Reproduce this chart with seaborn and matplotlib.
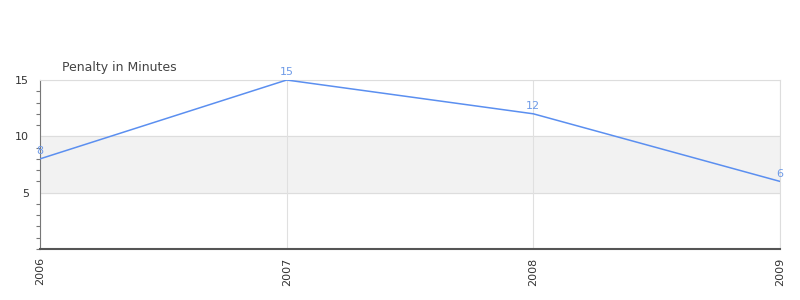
import matplotlib
matplotlib.use("Agg")
import matplotlib.pyplot as plt
import seaborn as sns
import pandas as pd
from matplotlib.ticker import MultipleLocator

years = ["2006", "2007", "2008", "2009"]
penalty = [8, 15, 12, 6]
title = "Penalty in Minutes"

sns.set_style("white")
plt.rcParams['font.family'] = ['DejaVu Sans']

df = pd.DataFrame({"x": range(len(years)), "y": penalty})

fig = plt.figure(figsize=(8, 3), dpi=100)
ax = fig.add_axes([0.05, 0.17, 0.925, 0.5633])

ax.axhspan(5, 10, color="#f2f2f2", zorder=0)
for yv in [5, 10, 15]:
    ax.axhline(yv, color="#dddddd", lw=0.8, zorder=1)
for xv in range(len(years)):
    ax.axvline(xv, color="#e0e0e0", lw=0.8, zorder=1)

sns.lineplot(data=df, x="x", y="y", ax=ax, color="#5b8ff0", lw=1.1, zorder=3)

for xi, yi in zip(df["x"], df["y"]):
    ax.annotate(str(yi), (xi, yi), xytext=(0, 2), textcoords="offset points",
                ha="center", va="bottom", fontsize=8, color="#6f9be8", zorder=4)

ax.axhline(0, color="#cc0000", lw=0.7, zorder=4)

ax.set_xlim(0, len(years) - 1)
ax.set_ylim(0, 15)
ax.set_xticks(range(len(years)))
ax.set_xticklabels(years, rotation=90, fontsize=8, color="#333333")
ax.set_yticks([5, 10, 15])
ax.set_yticklabels(["5", "10", "15"], fontsize=8, color="#333333")
ax.yaxis.set_minor_locator(MultipleLocator(1))
ax.tick_params(axis="y", which="major", length=5, color="#777777", width=0.8, pad=3)
ax.tick_params(axis="y", which="minor", length=3, color="#777777", width=0.8, left=True)
ax.tick_params(axis="x", which="major", length=0, pad=6)
ax.set_xlabel("")
ax.set_ylabel("")

for side in ["top", "right"]:
    ax.spines[side].set_color("#dddddd")
    ax.spines[side].set_linewidth(0.8)
ax.spines["left"].set_color("#777777")
ax.spines["left"].set_linewidth(0.8)
ax.spines["bottom"].set_color("#555555")
ax.spines["bottom"].set_linewidth(1.5)

fig.text(62 / 800, 1 - 67 / 300, title, fontsize=9, color="#444444",
         ha="left", va="center")

fig.savefig("out.png", dpi=100)
